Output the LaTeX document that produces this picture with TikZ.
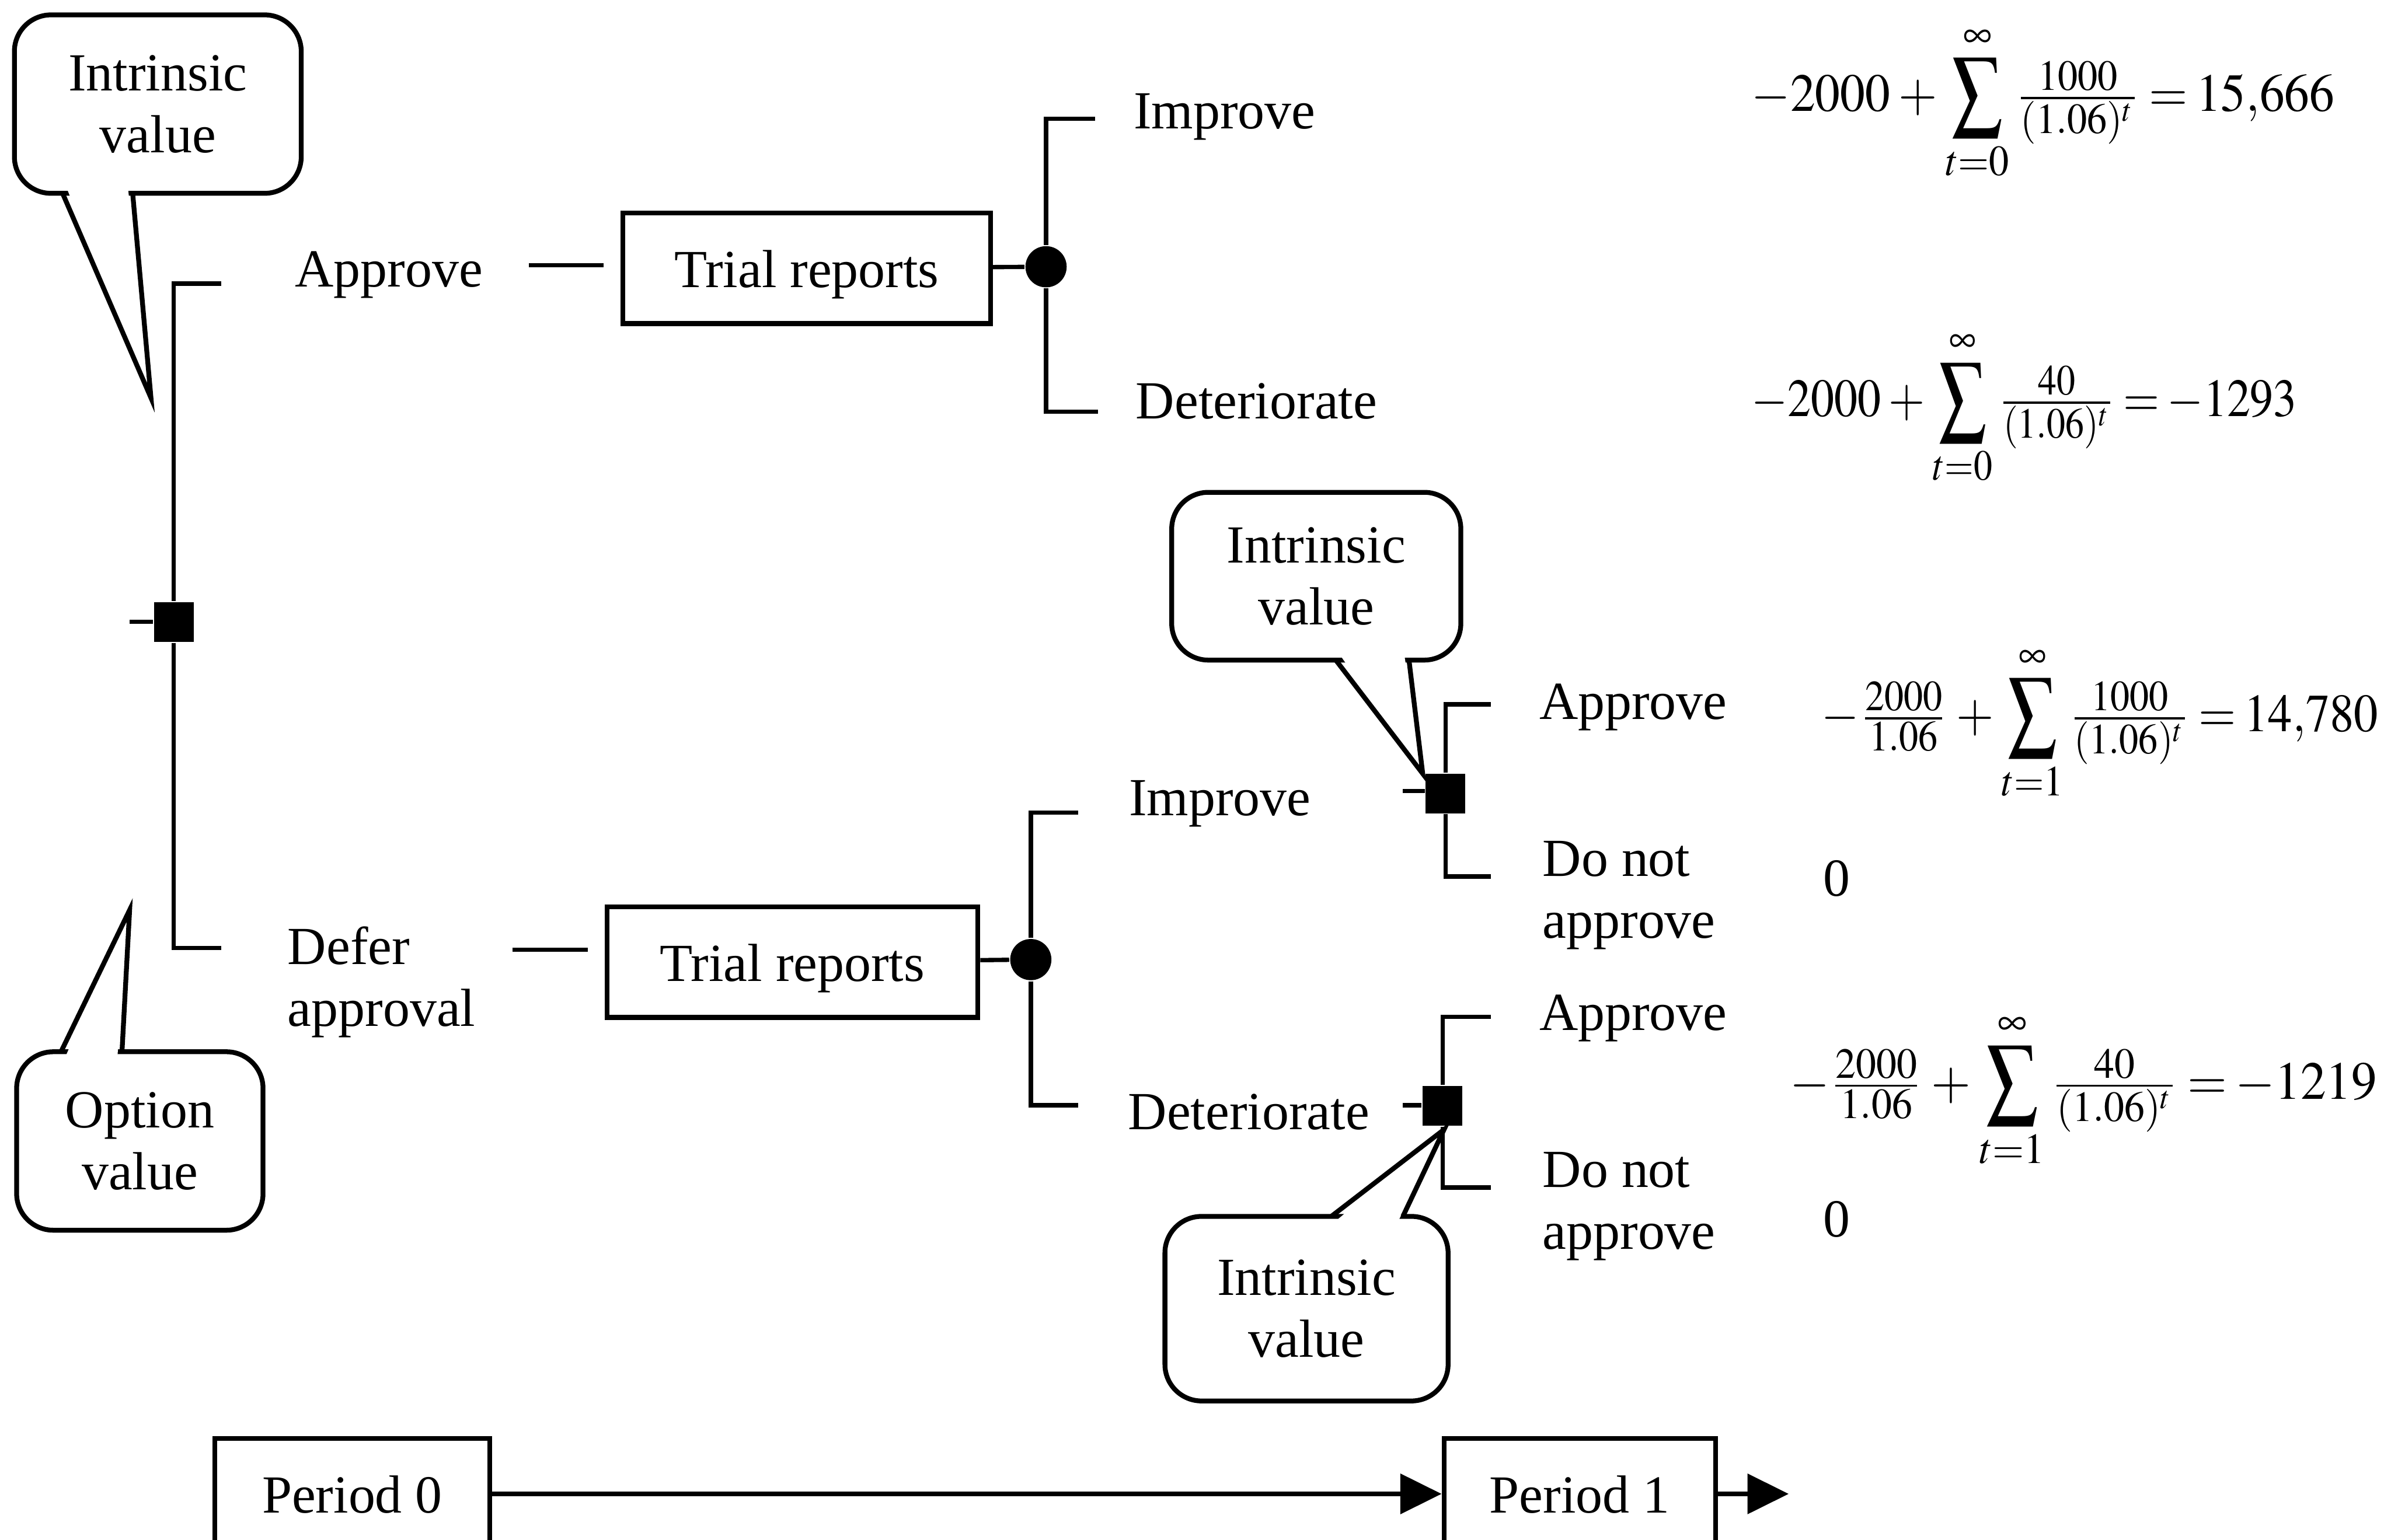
\documentclass[tikz,border=0pt]{standalone}
\usepackage{amsmath}
\usepackage{mathptmx}
\usepackage{fontspec}
\setmainfont{Liberation Serif}
\DeclareMathSizes{10}{10}{8}{6}
\usetikzlibrary{arrows.meta,calc}

% a taller summation sign, centred on the math axis
\newcommand{\tallsum}{\mathop{\vcenter{\hbox{\scalebox{1}[1.2]{$\displaystyle\sum$}}}}\limits}
% set a formula slightly condensed
\newcommand{\narrowed}[2]{\scalebox{#1}[1]{#2}}

\tikzset{
  every node/.style={font=\fontsize{10}{11.5}\selectfont},
  lbl/.style={inner sep=0pt, anchor=base},
  stack/.style={inner sep=0pt, align=left, anchor=base west},
  framed/.style={draw, line width=0.9pt, inner sep=0pt, minimum height=0.725cm,
                 text height=0.30cm, text depth=0.05cm},
  choice/.style={fill=black, minimum size=0.26cm, inner sep=0pt},
  chance/.style={circle, fill=black, minimum size=0.27cm, inner sep=0pt},
  bubble/.style={draw, line width=0.9pt, rounded corners=0.24cm, fill=white, align=center, inner sep=0pt},
  branch/.style={line width=0.8pt},
  tail/.style={line width=0.9pt},
  eqn/.style={inner sep=0pt, anchor=base west,
              execute at begin node={\thickmuskip=3mu\medmuskip=3mu}},
  timeline/.style={line width=0.8pt, -{Triangle[length=0.27cm, width=0.26cm]}},
}

\begin{document}
\begin{tikzpicture}[x=0.01cm, y=-0.01cm]
\clip (0,0) rectangle (1568,1010);

% ---------- period 0 decision ----------
\node[choice] (d0) at (114,408) {};
\coordinate (d0in) at (85,408);
\draw[branch] (d0in) -- (d0);
\coordinate (a0) at (145,186);
\coordinate (b0) at (145,622);
\draw[branch] (d0) |- (a0);
\draw[branch] (d0) |- (b0);

% approve now
\node[lbl] (ap0) at (255,188) {Approve};
\node[framed, minimum width=2.41cm] (t1) at (529,176) {Trial reports};
\coordinate (ap0r) at (347,174);
\draw[branch] (ap0r) -- (ap0r -| {$(t1.west)+(-11,0)$});
\node[chance] (c1) at (686,175) {};
\draw[branch] (t1) -- (c1);
\coordinate (i1) at (718,78);
\coordinate (e1) at (720,270);
\draw[branch] (c1) |- (i1);
\draw[branch] (c1) |- (e1);
\node[lbl] (im1) at (803,84.5) {Improve};
\node[lbl] (de1) at (824,274.5) {Deteriorate};

% defer approval
\node[stack] (df0) at (188,673) {Defer\\approval};
\node[framed, minimum width=2.43cm] (t2) at (519.7,631.2) {Trial reports};
\coordinate (df0r) at (336,623);
\draw[branch] (df0r) -- (df0r -| {$(t2.west)+(-11,0)$});
\node[chance] (c2) at (676,629.5) {};
\draw[branch] (t2) -- (c2);
\coordinate (i2) at (707,533);
\coordinate (e2) at (707,725);
\draw[branch] (c2) |- (i2);
\draw[branch] (c2) |- (e2);
\node[lbl] (im2) at (800,535) {Improve};
\node[lbl] (de2) at (819,741) {Deteriorate};

% period 1 decision after improvement
\node[choice] (d1) at (948,520.5) {};
\coordinate (d1in) at (920,519);
\draw[branch] (d1in) -- (d1in -| d1.west);
\coordinate (a1) at (977.6,462);
\coordinate (n1) at (977.6,575);
\draw[branch] (d1) |- (a1);
\draw[branch] (d1) |- (n1);
\node[lbl] (ap1) at (1071,472) {Approve};
\node[stack] (dn1) at (1011,615.4) {Do not\\approve};

% period 1 decision after deterioration
\node[choice] (d2) at (946,725.5) {};
\coordinate (d2in) at (920,725);
\draw[branch] (d2in) -- (d2in -| d2.west);
\coordinate (a2) at (977.6,667);
\coordinate (n2) at (977.6,779);
\draw[branch] (d2) |- (a2);
\draw[branch] (d2) |- (n2);
\node[lbl] (ap2) at (1071,676) {Approve};
\node[stack] (dn2) at (1011,819.4) {Do not\\approve};

% payoffs
\node[eqn] (v1) at (1148,73) {\narrowed{0.93}{$-2000+\tallsum_{t=0}^{\infty}\tfrac{1000}{(1.06)^t}=15{,}666$}};
\node[eqn] (v2) at (1148,273) {\narrowed{0.87}{$-2000+\tallsum_{t=0}^{\infty}\tfrac{40}{(1.06)^t}=-1293$}};
\node[eqn] (v3) at (1194,480) {\narrowed{0.9}{$-\tfrac{2000}{1.06}+\tallsum_{t=1}^{\infty}\tfrac{1000}{(1.06)^t}=14{,}780$}};
\node[lbl] (z1) at (1204.6,587.8) {0};
\node[eqn] (v4) at (1173,721) {\narrowed{0.95}{$-\tfrac{2000}{1.06}+\tallsum_{t=1}^{\infty}\tfrac{40}{(1.06)^t}=-1219$}};
\node[lbl] (z2) at (1204.6,811.4) {0};

% callouts
\node[bubble, minimum width=1.88cm, minimum height=1.17cm] (iv0) at (103.5,68.3) {Intrinsic\\value};
\coordinate (iv0tip) at (99,261);
\fill[white] (44,124) -- (iv0tip) -- (84,124) -- cycle;
\draw[tail] (41,126.7) -- (iv0tip) -- (87,126.7);

\node[bubble, minimum width=1.615cm, minimum height=1.17cm] (ov) at (91.7,748.5) {Option\\value};
\coordinate (ovtip) at (85,597);
\fill[white] (43,693) -- (ovtip) -- (77,693) -- cycle;
\draw[tail] (40,690) -- (ovtip) -- (80,690);

\node[bubble, minimum width=1.895cm, minimum height=1.10cm] (iv1) at (863.2,378) {Intrinsic\\value};
\coordinate (iv1tip) at (933,507.5);
\fill[white] (879,430) -- (iv1tip) -- (921,430) -- cycle;
\draw[tail] (876,433) -- (iv1tip) -- (924,433);

\node[bubble, minimum width=1.856cm, minimum height=1.21cm] (iv2) at (856.8,858.5) {Intrinsic\\value};
\coordinate (iv2tip) at (947,741);
\fill[white] (876,801) -- (iv2tip) -- (917,801) -- cycle;
\draw[tail] (873,798) -- (iv2tip) -- (920,798);

% time line
\node[framed, minimum width=1.80cm] (p0) at (231,980) {Period 0};
\node[framed, minimum width=1.78cm] (p1) at (1036,980) {Period 1};
\coordinate (pend) at (1173,980);
\draw[timeline] (p0) -- (p1);
\draw[timeline] (p1) -- (pend);
\end{tikzpicture}
\end{document}
